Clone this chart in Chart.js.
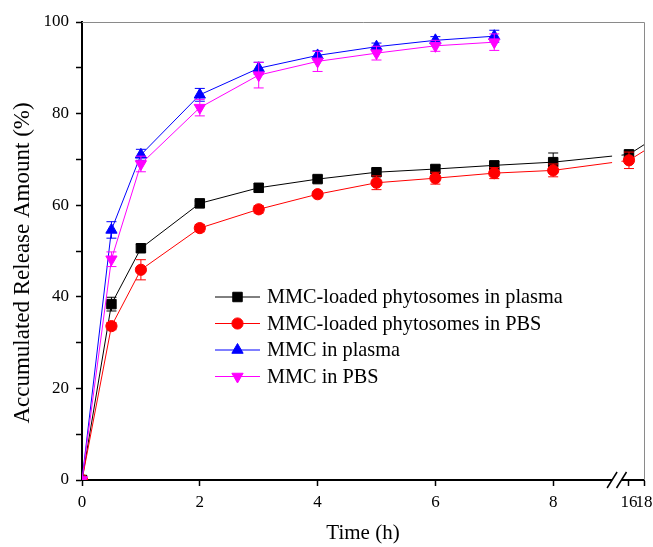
<!DOCTYPE html>
<html>

<head>
  <script src="https://cdn.jsdelivr.net/npm/chart.js@4.4.0/dist/chart.umd.min.js"></script>
  <style>
    html, body { margin: 0; padding: 0; background: #fff; }
  </style>
</head>

<body>
  <canvas id="releaseChart" width="653" height="547"></canvas>

  <script type="text/javascript">
    // sampling times (h)
    var times = [0, 0.5, 1, 2, 3, 4, 5, 6, 7, 8, 16, 24];
    var xTicks = [0, 2, 4, 6, 8, 16, 18];
    var xTickLabels = ['0', '2', '4', '6', '8', '16', '18'];

    // accumulated release (%) with SD
    var phytoPlasma = [0, 38.4, 50.6, 60.4, 63.8, 65.7, 67.2, 67.9, 68.7, 69.4, 71.1, 79.5];
    var phytoPlasmaSd = [0, 1.5, 0.8, 0.5, 0.9, 0.7, 0.7, 0.8, 0.8, 2.0, 0.8, 0];
    var phytoPBS = [0, 33.6, 45.9, 55.0, 59.1, 62.4, 64.9, 65.9, 67.0, 67.6, 69.8, 78.0];
    var phytoPBSSd = [0, 0.8, 2.2, 0.8, 0.8, 0.5, 1.5, 1.3, 1.2, 1.4, 1.8, 0];
    var mmcPlasma = [0, 54.6, 71.0, 84.1, 89.9, 92.7, 94.6, 96.0, 96.9];
    var mmcPlasmaSd = [0, 1.8, 1.2, 1.4, 1.3, 1.0, 0.8, 0.8, 1.3];
    var mmcPBS = [0, 48.2, 69.0, 81.3, 88.4, 91.4, 93.2, 94.8, 95.6];
    var mmcPBSSd = [0, 1.6, 1.7, 1.8, 2.8, 2.2, 1.5, 1.2, 1.8];

    // broken time axis: 0-9 h at full scale, 16 h onwards squeezed
    function axisPos(t) {
      return t <= 9 ? t : 9.287 + (t - 16) * 0.1275;
    }
    var gapFrom = 9.0, gapTo = 9.16;

    function points(vals) {
      return vals.map(function(v, i) { return { x: axisPos(times[i]), y: v }; });
    }

    var serif = 'Liberation Serif';

    // vertical SD bars with caps
    var errorBars = {
      id: 'errorBars',
      beforeDatasetDraw: function(chart, args) {
        var ds = chart.data.datasets[args.index];
        if (!ds.sd) return;
        var ctx = chart.ctx, y = chart.scales.y, area = chart.chartArea;
        ctx.save();
        ctx.beginPath();
        ctx.rect(area.left, area.top, area.right - area.left, area.bottom - area.top);
        ctx.clip();
        ctx.strokeStyle = ds.borderColor;
        ctx.lineWidth = 1;
        args.meta.data.forEach(function(pt, i) {
          var e = ds.sd[i];
          if (!e) return;
          var v = ds.data[i].y;
          var top = y.getPixelForValue(v + e), bot = y.getPixelForValue(v - e);
          ctx.beginPath();
          ctx.moveTo(pt.x, top); ctx.lineTo(pt.x, bot);
          ctx.moveTo(pt.x - 5, top); ctx.lineTo(pt.x + 5, top);
          ctx.moveTo(pt.x - 5, bot); ctx.lineTo(pt.x + 5, bot);
          ctx.stroke();
        });
        ctx.restore();
      }
    };

    // axis break, frame, y title and legend
    var decorations = {
      id: 'decorations',
      afterDatasetsDraw: function(chart) {
        var ctx = chart.ctx, x = chart.scales.x, area = chart.chartArea;
        var a = x.getPixelForValue(gapFrom), b = x.getPixelForValue(gapTo);
        ctx.save();
        ctx.fillStyle = '#fff';
        ctx.fillRect(a, area.top + 1, b - a, area.bottom - area.top - 2);
        ctx.restore();
      },
      afterDraw: function(chart) {
        var ctx = chart.ctx, x = chart.scales.x, area = chart.chartArea;
        ctx.save();

        // thin frame on top and right
        ctx.strokeStyle = '#8a8a8a';
        ctx.lineWidth = 1;
        ctx.beginPath();
        ctx.moveTo(area.left, area.top + 0.5);
        ctx.lineTo(area.right + 0.5, area.top + 0.5);
        ctx.lineTo(area.right + 0.5, area.bottom);
        ctx.stroke();

        // break marks on the time axis
        var a = x.getPixelForValue(gapFrom), b = x.getPixelForValue(gapTo);
        var yb = area.bottom;
        ctx.fillStyle = '#fff';
        ctx.fillRect(a, yb - 3, b - a, 6);
        ctx.strokeStyle = '#000';
        ctx.lineWidth = 1.5;
        ctx.beginPath();
        ctx.moveTo(a - 5, yb + 8); ctx.lineTo(a + 5, yb - 8);
        ctx.moveTo(b - 5, yb + 8); ctx.lineTo(b + 5, yb - 8);
        ctx.stroke();

        // y axis title
        ctx.fillStyle = '#000';
        ctx.font = '23px "' + serif + '"';
        ctx.textAlign = 'center';
        ctx.textBaseline = 'alphabetic';
        ctx.translate(28.5, 263);
        ctx.rotate(-Math.PI / 2);
        ctx.fillText('Accumulated Release Amount (%)', 0, 0);
        ctx.restore();

        // legend inside the plot
        ctx.save();
        ctx.font = '20.3px "' + serif + '"';
        ctx.textAlign = 'left';
        ctx.textBaseline = 'middle';
        chart.data.datasets.forEach(function(ds, i) {
          var ly = 297 + i * 26.5;
          ctx.strokeStyle = ds.borderColor;
          ctx.fillStyle = ds.backgroundColor;
          ctx.lineWidth = 1;
          ctx.beginPath();
          ctx.moveTo(215, ly);
          ctx.lineTo(260, ly);
          ctx.stroke();
          Chart.helpers.drawPoint(ctx, {
            pointStyle: ds.pointStyle,
            rotation: ds.pointRotation || 0,
            radius: ds.pointRadius,
            borderWidth: 1
          }, 237.5, ly);
          ctx.fillStyle = '#000';
          ctx.fillText(ds.label, 267, ly + 1);
        });
        ctx.restore();
      }
    };

    function series(label, vals, sd, color, style, radius, rotation, order) {
      return {
        label: label,
        data: points(vals),
        sd: sd,
        borderColor: color,
        backgroundColor: color,
        borderWidth: 1,
        pointStyle: style,
        pointRadius: radius,
        pointRotation: rotation,
        pointBorderWidth: 1,
        pointHoverRadius: radius,
        tension: 0,
        clip: 0,
        order: order
      };
    }

    var ctx = document.getElementById('releaseChart').getContext('2d');
    var chart = new Chart(ctx, {
      type: 'line',
      data: {
        datasets: [
          series('MMC-loaded phytosomes in plasma', phytoPlasma, phytoPlasmaSd, '#000000', 'rect', 6.7, 0, 4),
          series('MMC-loaded phytosomes in PBS', phytoPBS, phytoPBSSd, '#ff0000', 'circle', 5.6, 0, 3),
          series('MMC in plasma', mmcPlasma, mmcPlasmaSd, '#0000ff', 'triangle', 6.5, 0, 2),
          series('MMC in PBS', mmcPBS, mmcPBSSd, '#ff00ff', 'triangle', 6.5, 180, 1)
        ]
      },
      options: {
        responsive: false,
        animation: false,
        events: [],
        layout: { padding: { top: 22, right: 9, left: 0, bottom: 0 } },
        plugins: {
          legend: { display: false },
          tooltip: { enabled: false }
        },
        scales: {
          x: {
            type: 'linear',
            min: 0,
            max: axisPos(18),
            afterBuildTicks: function(scale) {
              scale.ticks = xTicks.map(function(t) { return { value: axisPos(t) }; });
            },
            afterFit: function(scale) {
              scale.height = 67;
              scale.paddingLeft = 0;
              scale.paddingRight = 0;
            },
            ticks: {
              autoSkip: false,
              maxRotation: 0,
              padding: 6,
              color: '#000',
              font: { family: serif, size: 17 },
              callback: function(v, i) { return xTickLabels[i]; }
            },
            grid: { drawOnChartArea: false, tickLength: 6, tickColor: '#000', tickWidth: 1.5 },
            border: { color: '#000', width: 2 },
            title: {
              display: true,
              text: 'Time (h)',
              color: '#000',
              font: { family: serif, size: 21 },
              padding: { top: 0, bottom: 1 }
            }
          },
          y: {
            min: 0,
            max: 100,
            afterFit: function(scale) {
              scale.width = 82;
              scale.paddingTop = 0;
              scale.paddingBottom = 0;
            },
            ticks: {
              stepSize: 10,
              padding: 7,
              color: '#000',
              font: { family: serif, size: 17 },
              callback: function(v) { return v % 20 === 0 ? v : ''; }
            },
            grid: { drawOnChartArea: false, tickLength: 6, tickColor: '#000', tickWidth: 1.5 },
            border: { color: '#000', width: 2 }
          }
        }
      },
      plugins: [errorBars, decorations]
    });
  </script>
</body>

</html>
